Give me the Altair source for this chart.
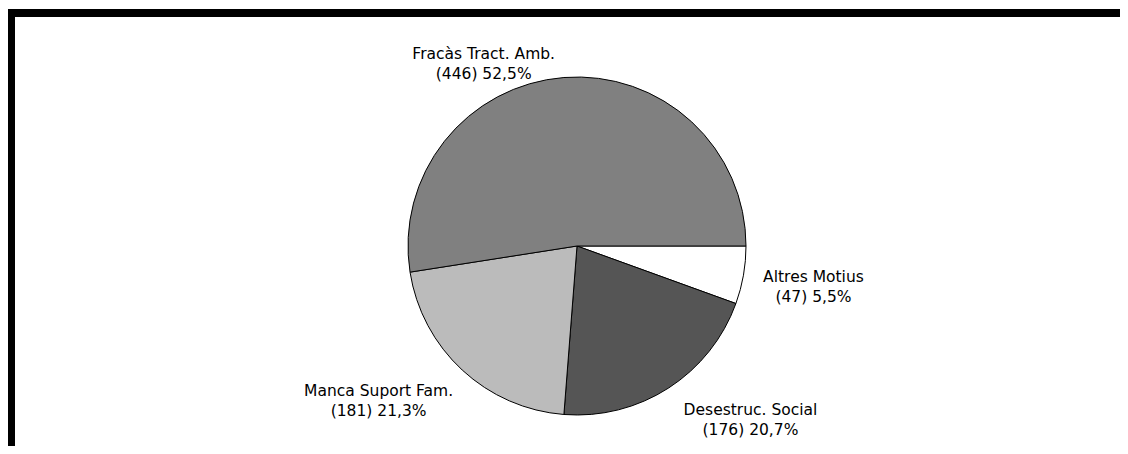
import math
import altair as alt
import pandas as pd

# Data (clockwise order starting at 3 o'clock)
categories = ["Altres Motius", "Desestruc. Social", "Manca Suport Fam.", "Fracàs Tract. Amb."]
counts = [47, 176, 181, 446]
fills = ["#ffffff", "#555555", "#bbbbbb", "#808080"]

df = pd.DataFrame({"cat": categories, "count": counts, "ord": list(range(len(categories)))})

W, H = 1000, 400
CX, CY = W / 2, H / 2
R = 169
R_LAB = 182
CHAR_W = 8.8
HALF_H = 11

base = alt.Chart(df)

pie = base.mark_arc(outerRadius=R, stroke="black", strokeWidth=1).encode(
    theta=alt.Theta("count:Q", stack=True,
                    scale=alt.Scale(range=[math.pi / 2, math.pi / 2 + 2 * math.pi])),
    color=alt.Color("cat:N", scale=alt.Scale(domain=categories, range=fills), legend=None),
    order=alt.Order("ord:Q"),
)

labels = base.transform_joinaggregate(
    total="sum(count)"
).transform_window(
    cum="sum(count)", sort=[alt.SortField("ord")], frame=[None, 0]
).transform_calculate(
    mid="PI/2 + 2*PI*(datum.cum - datum.count/2)/datum.total",
    pct="replace(format(datum.count/datum.total*100, '.1f'), '.', ',')",
    label="datum.cat + '\\n(' + datum.count + ') ' + datum.pct + '%'",
    hw=f"length(datum.cat)*{CHAR_W}/2",
).transform_calculate(
    ax=f"{CX} + {R_LAB}*sin(datum.mid)",
    ay=f"{CY} - {R_LAB}*cos(datum.mid)",
).transform_calculate(
    lx="datum.ax + (sin(datum.mid) >= 0 ? datum.hw : -datum.hw)",
    ly=f"datum.ay + (abs(cos(datum.mid)) < 0.5 ? 0 : (cos(datum.mid) > 0 ? -{HALF_H} : {HALF_H}))",
).mark_text(
    font="DejaVu Sans", fontSize=15.5, lineBreak="\n", lineHeight=20,
    align="center", baseline="middle", color="black",
).encode(
    x=alt.X("lx:Q", scale=None, axis=None),
    y=alt.Y("ly:Q", scale=None, axis=None),
    text="label:N",
)

frame_df = pd.DataFrame({"k": [0]})
top_bar = alt.Chart(frame_df).mark_rule(color="black", strokeWidth=8, strokeCap="butt").encode(
    x=alt.value(-70), x2=alt.value(1060), y=alt.value(-33)
)
left_bar = alt.Chart(frame_df).mark_rule(color="black", strokeWidth=8, strokeCap="butt").encode(
    x=alt.value(-66), y=alt.value(-37), y2=alt.value(420)
)

chart = alt.layer(pie, labels, top_bar, left_bar).properties(
    width=W, height=H,
    autosize=alt.AutoSizeParams(type="none"),
    padding={"left": 69, "top": 38, "right": 43, "bottom": 0},
    background="white",
).configure_view(stroke=None)

chart.save("out.html", embed_options={"renderer": "svg", "actions": False})
